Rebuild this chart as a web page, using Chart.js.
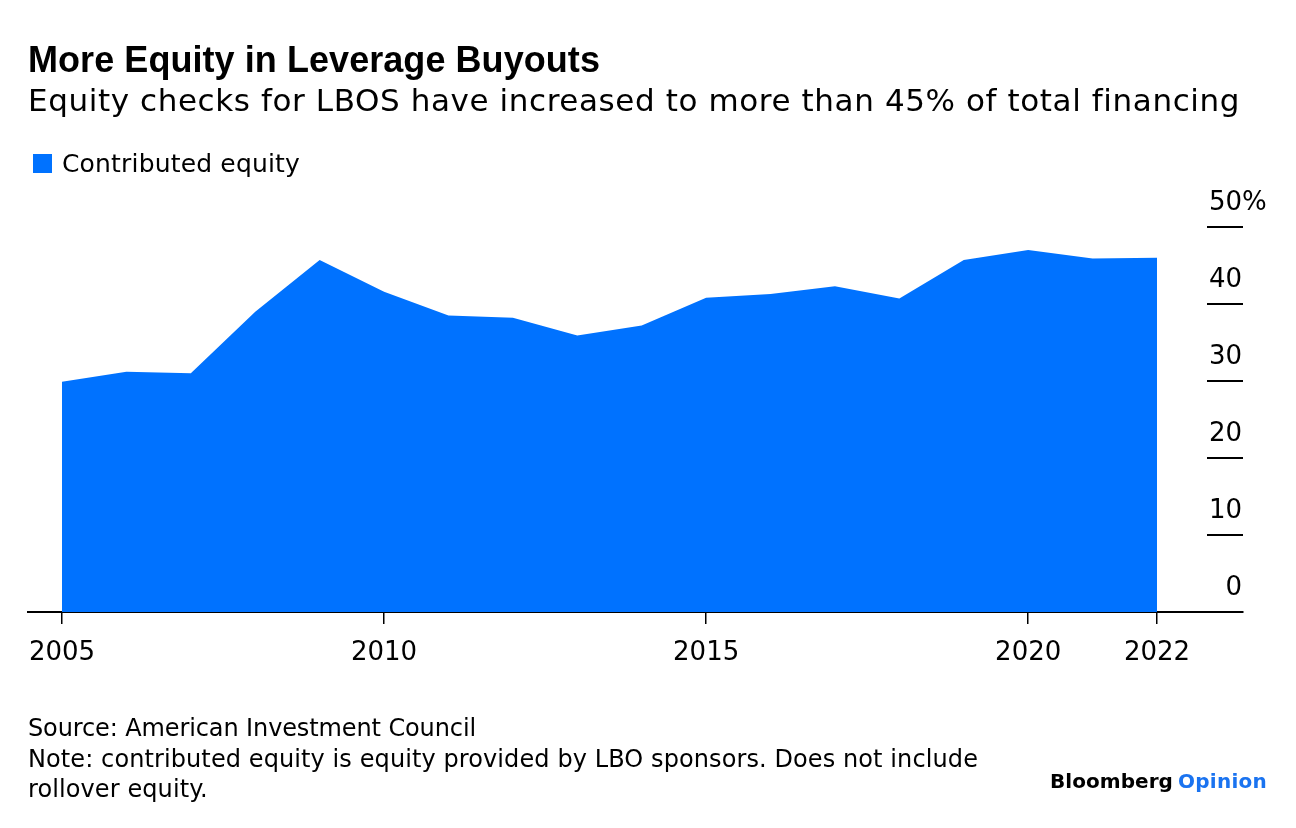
<!DOCTYPE html>
<html><head><meta charset="utf-8">
<script src="https://cdn.jsdelivr.net/npm/chart.js@4.4.1/dist/chart.umd.min.js"></script>
<style>
html,body{margin:0;padding:0;background:#fff;}
#wrap{position:relative;width:1296px;height:828px;overflow:hidden;font-family:"DejaVu Sans",sans-serif;}
#c{position:absolute;left:0;top:0;}
.t{position:absolute;white-space:nowrap;color:#000;line-height:1;}
</style></head><body>
<div id="wrap">
<canvas id="c" width="1296" height="828"></canvas>
<div class="t" data-w="572" style="left:28px;top:42px;font-size:36px;font-weight:bold;font-family:'Liberation Sans',Arial,sans-serif;">More Equity in Leverage Buyouts</div>
<div class="t" data-w="1212" style="left:28px;top:85px;font-size:31px;">Equity checks for LBOS have increased to more than 45% of total financing</div>
<div style="position:absolute;left:33px;top:154px;width:19px;height:19px;background:#0072FF;"></div>
<div class="t" data-w="238" style="left:62px;top:151px;font-size:25px;">Contributed equity</div>
<div class="t" data-w="448" style="left:28px;top:716px;font-size:24px;">Source: American Investment Council</div>
<div class="t" data-w="950" style="left:28px;top:747px;font-size:24px;">Note: contributed equity is equity provided by LBO sponsors. Does not include</div>
<div class="t" id="roll" style="left:28px;top:777px;font-size:24px;">rollover equity.</div>
<div class="t" data-w="123" style="left:1050px;top:771px;font-size:20px;font-weight:bold;">Bloomberg</div>
<div class="t" id="op" data-w="89" style="left:1178px;top:771px;font-size:20px;font-weight:bold;color:#1a73f0;">Opinion</div>
</div>
<script>
// ---- data ----
const years = [2005,2006,2007,2008,2009,2010,2011,2012,2013,2014,2015,2016,2017,2018,2019,2020,2021,2022];
const equity = [29.9,31.2,31.0,39.0,45.7,41.6,38.5,38.2,35.9,37.2,40.8,41.3,42.3,40.7,45.7,47.0,45.9,46.0];
const xTickYears = [2005,2010,2015,2020,2022];
const yTickValues = [0,10,20,30,40,50];
const yTopLabelSuffix = '%';

// fit text widths via letter-spacing
let noteSpacing = 0;
document.querySelectorAll('[data-w]').forEach(el=>{
  const target = +el.dataset.w;
  el.style.letterSpacing = '0px';
  const w = el.getBoundingClientRect().width;
  const n = el.textContent.length;
  const ls = (target - w) / n;
  el.style.letterSpacing = ls + 'px';
  if (el.textContent.startsWith('Note')) noteSpacing = ls;
});
document.getElementById('roll').style.letterSpacing = noteSpacing + 'px';

const FONT = '"DejaVu Sans", sans-serif';

const axisDeco = {
  id: 'axisDeco',
  afterDraw(chart){
    const ctx = chart.ctx, y = chart.scales.y;
    ctx.save();
    ctx.strokeStyle = '#000';
    ctx.lineWidth = 2;
    ctx.fillStyle = '#000';
    ctx.font = '26px ' + FONT;
    ctx.textBaseline = 'alphabetic';
    yTickValues.forEach((v,i)=>{
      const py = y.getPixelForValue(v);
      if (v > 0) {
        ctx.beginPath(); ctx.moveTo(1207, py); ctx.lineTo(1243, py); ctx.stroke();
      }
      ctx.textAlign = 'right';
      ctx.fillText(String(v), 1242, py - 17);
      if (i === yTickValues.length - 1) {
        ctx.textAlign = 'left';
        ctx.fillText(yTopLabelSuffix, 1242, py - 17);
      }
    });
    ctx.restore();
  }
};

new Chart(document.getElementById('c'), {
  type: 'line',
  data: {
    datasets: [{
      label: 'Contributed equity',
      data: years.map((yr,i)=>({x: yr, y: equity[i]})),
      fill: 'origin',
      backgroundColor: '#0072FF',
      borderWidth: 0,
      borderColor: 'rgba(0,0,0,0)',
      pointRadius: 0,
      tension: 0
    }]
  },
  options: {
    responsive: false,
    animation: false,
    events: [],
    layout: { padding: { top: 227, left: 28, right: 53, bottom: 0 } },
    plugins: { legend: { display: false }, tooltip: { enabled: false } },
    scales: {
      x: {
        type: 'linear',
        min: 2004.472,
        max: 2023.335,
        afterBuildTicks: s => { s.ticks = xTickYears.map(v => ({ value: v })); },
        afterFit: s => { s.height = 216; },
        grid: { drawOnChartArea: false, drawTicks: true, tickLength: 12, color: '#000', lineWidth: 1.5 },
        border: { display: true, color: '#000', width: 2 },
        ticks: {
          autoSkip: false, maxRotation: 0, color: '#000', padding: 14,
          font: { family: FONT, size: 26 },
          callback: v => String(v)
        }
      },
      y: {
        display: false,
        min: 0, max: 50
      }
    }
  },
  plugins: [axisDeco]
});
</script>
</body></html>
